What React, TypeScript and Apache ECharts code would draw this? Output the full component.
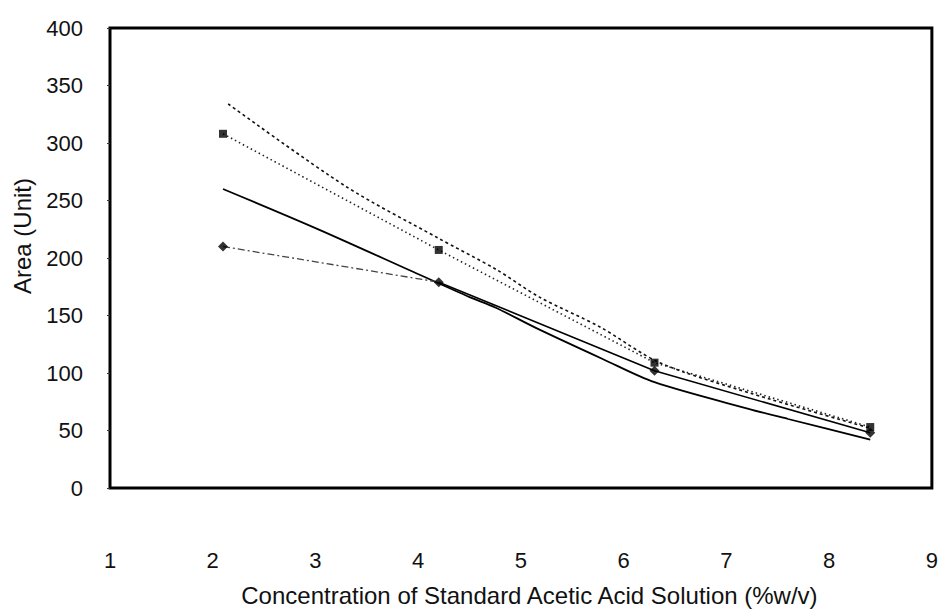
import React, { useEffect, useRef } from "react";
import * as echarts from "echarts";

// Sample concentrations (%w/v) at which peak areas were measured
const concentrations = [2.1, 4.2, 6.3, 8.4];
// Measured peak areas, diamond series
const areaDiamond = [210, 179, 102, 48];
// Measured peak areas, square series
const areaSquare = [308, 207, 109, 53];

// Solid fitted curve
const fitSolidX = [2.1, 3.0, 3.95, 4.5, 4.75, 5.15, 5.8, 6.3, 7.25, 7.6, 8.4];
const fitSolidY = [260, 226, 188, 166, 157, 139, 112, 92, 68, 60, 42];

// Dashed fitted curve
const fitDashX = [2.15, 3.3, 4.18, 4.76, 5.18, 5.77, 6.35, 7.25, 8.4];
const fitDashY = [334, 262, 218, 190, 166, 140, 109, 82, 52];

// Axis ticks
const xTicks = [1, 2, 3, 4, 5, 6, 7, 8, 9];
const yTicks = [0, 50, 100, 150, 200, 250, 300, 350, 400];

const FONT = "'Liberation Sans', Arial, Helvetica, sans-serif";

const pairs = (xs: number[], ys: number[]) => xs.map((x, i) => [x, ys[i]]);

export default function App() {
  const ref = useRef<HTMLDivElement>(null);

  useEffect(() => {
    if (!ref.current) return;
    const chart = echarts.init(ref.current, null, { renderer: "svg" });

    const diamondPts = pairs(concentrations, areaDiamond);
    const squarePts = pairs(concentrations, areaSquare);

    chart.setOption({
      animation: false,
      backgroundColor: "#ffffff",
      grid: {
        left: 110,
        right: 9,
        top: 28,
        bottom: 126,
        show: true,
        borderColor: "#000",
        borderWidth: 3,
        backgroundColor: "transparent",
      },
      xAxis: {
        type: "value",
        min: xTicks[0],
        max: xTicks[xTicks.length - 1],
        interval: 1,
        name: "Concentration of Standard Acetic Acid Solution (%w/v)",
        nameLocation: "middle",
        nameGap: 95,
        nameTextStyle: {
          fontFamily: FONT,
          fontSize: 24,
          color: "#111",
          padding: [0, 0, 0, 17],
        },
        axisLine: { show: false },
        axisTick: { show: false },
        splitLine: { show: false },
        axisLabel: {
          fontFamily: FONT,
          fontSize: 22,
          color: "#111",
          margin: 61,
        },
      },
      yAxis: {
        type: "value",
        min: yTicks[0],
        max: yTicks[yTicks.length - 1],
        interval: 50,
        axisLine: { show: false },
        axisTick: { show: true, length: 3, lineStyle: { color: "#333" } },
        splitLine: { show: false },
        axisLabel: {
          fontFamily: FONT,
          fontSize: 22,
          color: "#111",
          margin: 27,
        },
      },
      graphic: [
        {
          type: "text",
          x: 22,
          y: 236,
          rotation: Math.PI / 2,
          style: {
            text: "Area (Unit)",
            font: `24px ${FONT}`,
            fill: "#111",
            textAlign: "center",
            textVerticalAlign: "middle",
          },
        },
      ],
      series: [
        {
          name: "fit-solid",
          type: "line",
          data: pairs(fitSolidX, fitSolidY),
          showSymbol: false,
          smooth: 0.3,
          lineStyle: { color: "#000", width: 1.8 },
          z: 2,
        },
        {
          name: "fit-dashed",
          type: "line",
          data: pairs(fitDashX, fitDashY),
          showSymbol: false,
          smooth: 0.3,
          lineStyle: { color: "#111", width: 1.6, type: [3, 3] },
          z: 2,
        },
        {
          name: "square-link",
          type: "line",
          data: squarePts,
          showSymbol: false,
          lineStyle: { color: "#222", width: 1.6, type: [1.5, 3] },
          z: 3,
        },
        {
          name: "diamond-link-first",
          type: "line",
          data: diamondPts.slice(0, 2),
          showSymbol: false,
          lineStyle: { color: "#444", width: 1.3, type: [7, 3, 2, 3] },
          z: 3,
        },
        {
          name: "diamond-link",
          type: "line",
          data: diamondPts.slice(1),
          showSymbol: false,
          lineStyle: { color: "#000", width: 1.6 },
          z: 3,
        },
        {
          name: "square",
          type: "scatter",
          data: squarePts,
          symbol: "rect",
          symbolSize: 8,
          itemStyle: { color: "#000" },
          z: 5,
        },
        {
          name: "diamond",
          type: "scatter",
          data: diamondPts,
          symbol: "diamond",
          symbolSize: [10, 10],
          itemStyle: { color: "#000" },
          z: 5,
        },
      ],
    });

    return () => chart.dispose();
  }, []);

  return (
    <div
      ref={ref}
      style={{ position: "fixed", left: 0, top: 0, width: 941, height: 614 }}
    />
  );
}
